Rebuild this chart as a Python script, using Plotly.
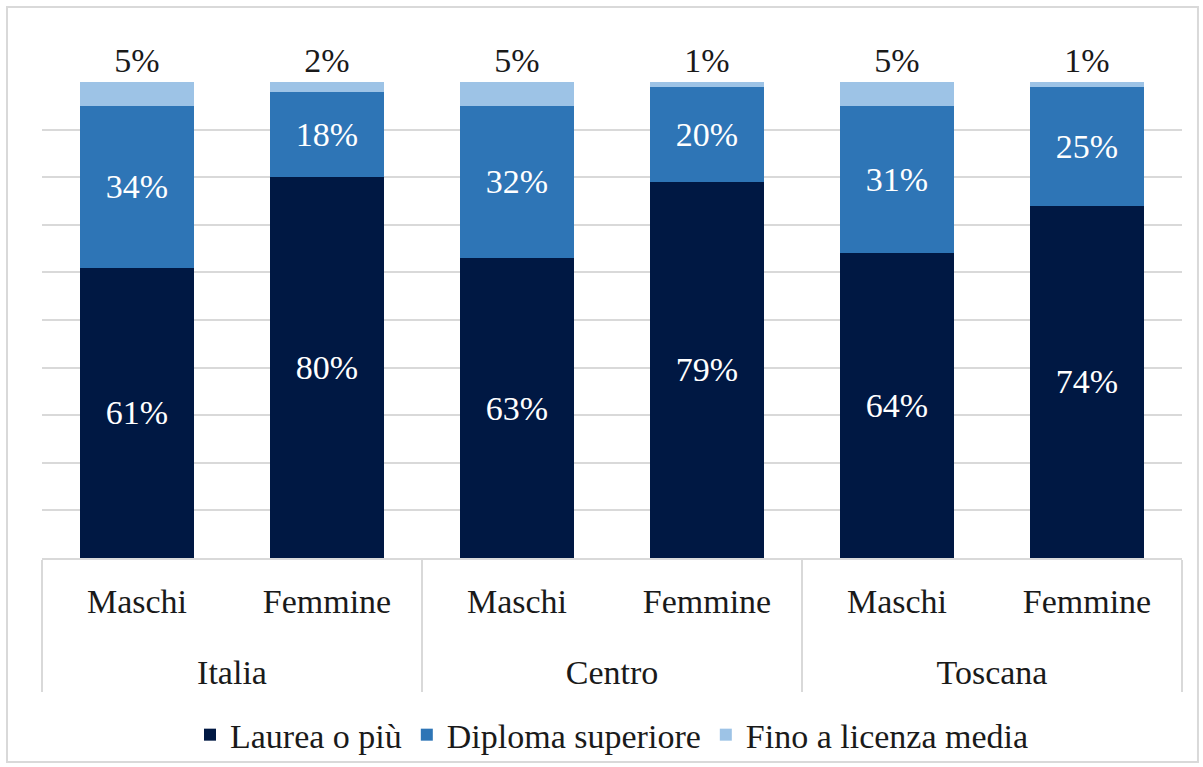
import plotly.graph_objects as go

# 数据
regioni = ["Italia", "Italia", "Centro", "Centro", "Toscana", "Toscana"]
sesso = ["Maschi", "Femmine", "Maschi", "Femmine", "Maschi", "Femmine"]

laurea = [61, 80, 63, 79, 64, 74]
diploma = [34, 18, 32, 20, 31, 25]
licenza_media = [5, 2, 5, 1, 5, 1]

serie = [
    ("Laurea o più", laurea, "#001843", "white", "inside"),
    ("Diploma superiore", diploma, "#2e75b6", "white", "inside"),
    ("Fino a licenza media", licenza_media, "#9dc3e6", "#1a1a1a", "outside"),
]

FONT = "Liberation Serif, DejaVu Serif, serif"
FS = 34

# 内层标签加一个空行，把外层标签往下推
sesso_label = [s + "<br> " for s in sesso]

fig = go.Figure()

for nome, valori, colore, col_testo, pos in serie:
    fig.add_trace(go.Bar(
        x=[regioni, sesso_label],
        y=valori,
        name=nome,
        marker=dict(color=colore, line=dict(width=0)),
        text=[f"{v}%" for v in valori],
        textposition=pos,
        insidetextanchor="middle",
        textfont=dict(family=FONT, size=FS, color=col_testo),
        cliponaxis=False,
        constraintext="none",
        hoverinfo="skip",
    ))

fig.update_layout(
    barmode="stack",
    bargap=0.395,
    width=1203,
    height=767,
    margin=dict(l=42, r=21, t=82, b=209, autoexpand=False),
    paper_bgcolor="white",
    plot_bgcolor="white",
    font=dict(family=FONT, size=FS, color="#1a1a1a"),
    showlegend=True,
    legend=dict(
        orientation="h",
        x=0.5, xanchor="center",
        y=-0.372, yanchor="middle",
        bgcolor="rgba(0,0,0,0)",
        font=dict(family=FONT, size=FS, color="#1a1a1a"),
        itemclick=False,
        traceorder="normal",
    ),
)

fig.update_xaxes(
    type="multicategory",
    showline=True,
    linecolor="#d9d9d9",
    linewidth=2,
    showdividers=True,
    dividercolor="#d9d9d9",
    dividerwidth=2,
    ticks="",
    ticklabelstandoff=12,
    tickfont=dict(family=FONT, size=FS, color="#1a1a1a"),
    showgrid=False,
)

fig.update_yaxes(
    range=[0, 100],
    dtick=10,
    showticklabels=False,
    showgrid=True,
    gridcolor="#d9d9d9",
    gridwidth=2,
    zeroline=False,
    showline=False,
)

# 外框
fig.add_shape(
    type="rect", xref="paper", yref="paper",
    x0=-0.0307, x1=1.014, y0=-0.4286, y1=1.1576,
    line=dict(color="#d9d9d9", width=2),
    fillcolor="rgba(0,0,0,0)",
    layer="below",
)

# 去掉页面默认边距，隐藏工具栏
fig.write_html(
    "out.html",
    config={"displayModeBar": False},
    post_script="document.body.style.margin='0';",
)
